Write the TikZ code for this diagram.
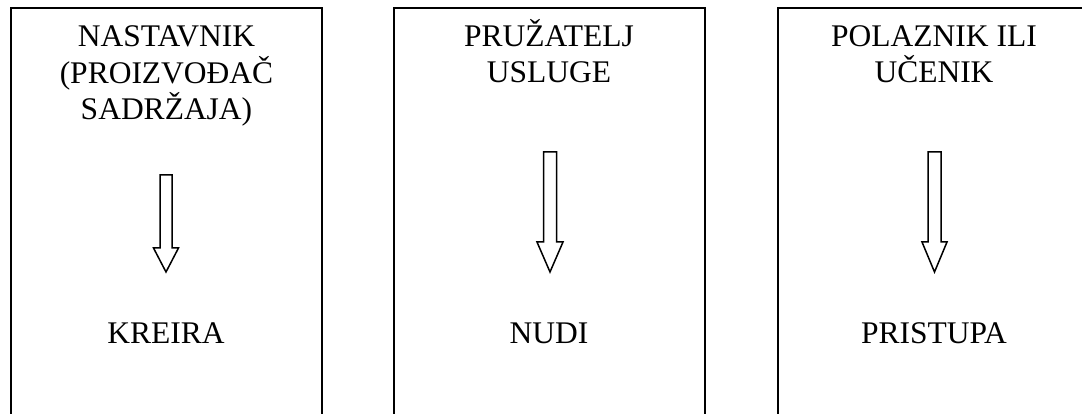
\documentclass[tikz,border=0pt]{standalone}
\usepackage{fontspec}
\setmainfont{Liberation Serif}
\begin{document}
\begin{tikzpicture}[x=1pt,y=-1pt,
  box/.style={draw=black,line width=2pt,minimum width=311pt,minimum height=420pt,inner sep=0pt,outer sep=0pt},
  title/.style={align=center,font=\fontsize{31.5}{36.5}\selectfont,inner sep=0pt,anchor=base},
  label/.style={font=\fontsize{31.5}{36.5}\selectfont,inner sep=0pt,anchor=base},
  blockarrow/.style={draw=black,line width=1.5pt,fill=white,line join=miter}]
\useasboundingbox (0,0) rectangle (1082,414);
\begin{scope}
\clip (0,0) rectangle (1082,414);
\node[box] (b1) at (166.5,218) {};
\node[box] (b2) at (549.5,218) {};
\node[box] (b3) at (933.5,218) {};
\end{scope}
\node[title] (t1) at (166.5,120) {NASTAVNIK\\(PROIZVOĐAČ\\SADRŽAJA)};
\node[title] (t2) at (549,83) {PRUŽATELJ\\USLUGE};
\node[title] (t3) at (934,83) {POLAZNIK ILI\\UČENIK};
\node[label] (l1) at (166,343) {KREIRA};
\node[label] (l2) at (549,343) {NUDI};
\node[label] (l3) at (934,343) {PRISTUPA};
\draw[blockarrow] (160,175) -- (160,248) -- (153.5,248) -- (166,272) -- (178.5,248) -- (172,248) -- (172,175) -- cycle;
\draw[blockarrow] (543.5,152) -- (543.5,242) -- (537,242) -- (550,272) -- (563,242) -- (556.5,242) -- (556.5,152) -- cycle;
\draw[blockarrow] (928,152) -- (928,242) -- (922,242) -- (934.5,272) -- (947,242) -- (941,242) -- (941,152) -- cycle;
\end{tikzpicture}
\end{document}
